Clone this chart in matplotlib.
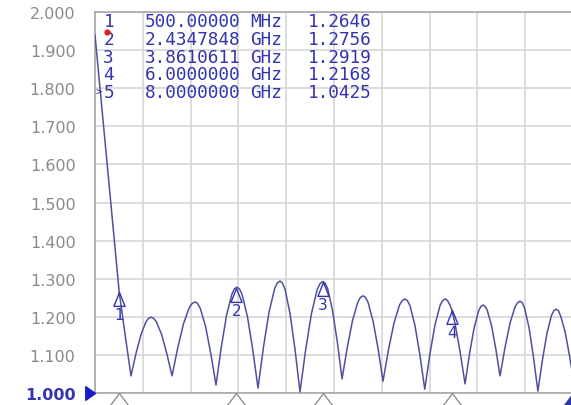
import numpy as np
import matplotlib.pyplot as plt
from matplotlib.path import Path

# trace (GHz, VSWR)
freq_ghz = [0.100, 0.500, 0.600, 0.695, 0.778, 0.861, 0.943, 0.985, 1.026, 1.069, 1.113, 1.200, 1.286, 1.373,
            1.468, 1.563, 1.658, 1.706, 1.753, 1.796, 1.840, 1.927, 2.013, 2.100,
            2.186, 2.273, 2.359, 2.402, 2.445, 2.489, 2.532, 2.620, 2.707, 2.794,
            2.885, 2.976, 3.067, 3.113, 3.158, 3.199, 3.241, 3.323, 3.406, 3.488,
            3.582, 3.677, 3.771, 3.818, 3.865, 3.905, 3.945, 4.024, 4.104, 4.183,
            4.270, 4.357, 4.443, 4.487, 4.530, 4.571, 4.613, 4.695, 4.778, 4.860,
            4.951, 5.042, 5.133, 5.179, 5.224, 5.265, 5.306, 5.387, 5.469, 5.550,
            5.634, 5.718, 5.801, 5.843, 5.885, 5.926, 5.968, 6.000, 6.050, 6.133, 6.216,
            6.290, 6.365, 6.439, 6.476, 6.513, 6.548, 6.583, 6.654, 6.724, 6.794,
            6.877, 6.960, 7.042, 7.084, 7.125, 7.162, 7.199, 7.273, 7.346, 7.420,
            7.495, 7.570, 7.645, 7.683, 7.720, 7.760, 7.800, 7.870, 7.940, 8.000]
vswr = [1.940, 1.2646, 1.150, 1.045, 1.104, 1.154, 1.187, 1.196, 1.199, 1.196, 1.187, 1.154, 1.104, 1.045,
        1.119, 1.182, 1.224, 1.235, 1.239, 1.235, 1.222, 1.175, 1.104, 1.021,
        1.119, 1.203, 1.258, 1.273, 1.278, 1.273, 1.258, 1.200, 1.114, 1.013,
        1.121, 1.212, 1.273, 1.289, 1.294, 1.288, 1.272, 1.209, 1.114, 1.003,
        1.114, 1.208, 1.271, 1.287, 1.293, 1.288, 1.274, 1.218, 1.135, 1.037,
        1.120, 1.191, 1.238, 1.251, 1.255, 1.251, 1.238, 1.189, 1.117, 1.031,
        1.114, 1.184, 1.231, 1.243, 1.247, 1.242, 1.229, 1.178, 1.101, 1.010,
        1.101, 1.178, 1.229, 1.242, 1.247, 1.243, 1.230, 1.217, 1.182, 1.109, 1.024,
        1.103, 1.170, 1.215, 1.227, 1.231, 1.227, 1.217, 1.177, 1.116, 1.045,
        1.120, 1.184, 1.226, 1.237, 1.241, 1.237, 1.223, 1.172, 1.095, 1.005,
        1.087, 1.157, 1.204, 1.216, 1.220, 1.216, 1.200, 1.160, 1.100, 1.0425]

# markers
marker_ids = ['1', '2', '3', '4', '5']
marker_freq = [0.5, 2.4347848, 3.8610611, 6.0, 8.0]
marker_freq_text = ['500.00000', '2.4347848', '3.8610611', '6.0000000', '8.0000000']
marker_unit = ['MHz', 'GHz', 'GHz', 'GHz', 'GHz']
marker_vswr = [1.2646, 1.2756, 1.2919, 1.2168, 1.0425]

x_start, x_stop = 0.1, 8.0
y_ticks = np.round(np.arange(1.0, 2.0001, 0.1), 3)

trace_col = '#50509c'
blue = '#3434b0'
grey_txt = '#8a8a8a'

fig = plt.figure(figsize=(5.71, 4.06), dpi=100)
ax = fig.add_axes([95 / 571, 12 / 406, 478 / 571, 381 / 406])

ax.plot(freq_ghz, vswr, color=trace_col, lw=1.1, zorder=3)
ax.set_xlim(x_start, x_stop)
ax.set_ylim(1.0, 2.0)

ax.set_xticks(x_start + (x_stop - x_start) / 10 * np.arange(11))
ax.set_xticklabels([])
ax.set_yticks(y_ticks)
ax.set_yticklabels([f'{v:.3f}' for v in y_ticks])
ax.tick_params(length=0, pad=14, labelsize=11.5, labelcolor=grey_txt)
lbl = ax.get_yticklabels()[0]
lbl.set_color(blue)
lbl.set_fontweight('bold')
ax.grid(color='#d6d6d6', lw=1.2)
ax.set_axisbelow(True)
for s in ax.spines.values():
    s.set_color('#a8a8a8')
    s.set_linewidth(1.2)

# triangle with apex at the point
tri_trace = Path([(0, 0), (-0.4, -1), (0.4, -1), (0, 0)],
                 [Path.MOVETO, Path.LINETO, Path.LINETO, Path.CLOSEPOLY])
tri_axis = Path([(0, 0), (-0.75, -1), (0.75, -1), (0, 0)],
                [Path.MOVETO, Path.LINETO, Path.LINETO, Path.CLOSEPOLY])
tri_ref = Path([(0, 0), (-1, 0.7), (-1, -0.7), (0, 0)],
               [Path.MOVETO, Path.LINETO, Path.LINETO, Path.CLOSEPOLY])

ax.plot(marker_freq[:4], marker_vswr[:4], ls='none', marker=tri_trace, ms=20,
        mfc='none', mec=blue, mew=1.0, zorder=4)
for mid, f, v in zip(marker_ids[:4], marker_freq[:4], marker_vswr[:4]):
    ax.annotate(mid, (f, v), xytext=(0, -16), textcoords='offset points',
                ha='center', va='center', color=blue, fontsize=11, zorder=5)

# stimulus markers under the axis
ax.plot(marker_freq[:4], [1.0] * 4, ls='none', marker=tri_axis, ms=19,
        mfc='white', mec='#909090', mew=1.0, clip_on=False, zorder=5)
ax.plot(marker_freq[4], 1.0, ls='none', marker=tri_axis, ms=19,
        mfc=blue, mec=blue, clip_on=False, zorder=5)
# reference level pointer
ax.plot(x_start, 1.0, ls='none', marker=tri_ref, ms=14, mfc='#1a1ad0',
        mec='#1a1ad0', clip_on=False, zorder=5)

# marker table
px = lambda x: (x - 95) / 478
py = lambda y: (394 - y) / 381
for i in range(5):
    yb = py(27 + 17.8 * i)
    kw = dict(transform=ax.transAxes, va='baseline', color=blue,
              family='DejaVu Sans Mono', fontsize=12.8, zorder=6)
    ax.text(px(114), yb, marker_ids[i], ha='right', **kw)
    ax.text(px(145), yb, marker_freq_text[i], ha='left', **kw)
    ax.text(px(250), yb, marker_unit[i], ha='left', **kw)
    ax.text(px(372), yb, f'{marker_vswr[i]:.4f}', ha='right', **kw)
ax.text(px(96), py(25 + 17.8 * 4), '>', transform=ax.transAxes, va='baseline',
        ha='left', color=blue, family='DejaVu Sans Mono', fontsize=7.5, zorder=6)
ax.plot(px(107), py(33), 'o', color='#e02020', ms=3.5, transform=ax.transAxes,
        zorder=6)

fig.savefig('out.png', dpi=100)
